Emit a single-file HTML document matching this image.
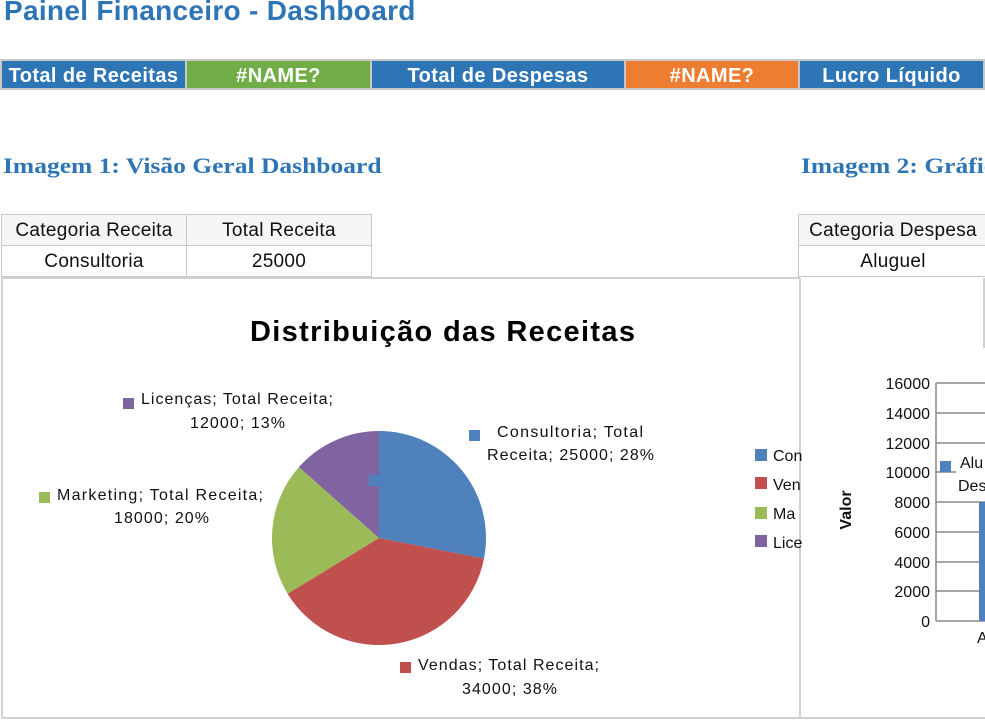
<!DOCTYPE html>
<html><head><meta charset="utf-8"><style>
*{margin:0;padding:0;box-sizing:border-box}
body{width:985px;height:721px;background:#fff;position:relative;overflow:hidden;font-family:"Liberation Sans",sans-serif}
.a{position:absolute;white-space:nowrap}
.c{position:absolute;display:flex;align-items:center;justify-content:center;white-space:nowrap}
.hb{color:#fff;font-weight:bold;font-size:20px;letter-spacing:0.4px;border:2px solid #c8c8c8;top:59px;height:31px;padding-top:3px}
.t{border:1px solid #c8c8c8;font-size:19px;letter-spacing:0.3px;color:#111;height:32px;padding-top:2px}
.h{font-family:'Liberation Serif',serif;font-weight:bold;font-size:22px;color:#2e75b6;transform:scaleX(1.16);transform-origin:left}
</style></head><body>
<div class="a" style="left:4px;top:-5px;font-size:28px;font-weight:bold;color:#2e75b6;letter-spacing:0.3px">Painel Financeiro - Dashboard</div>

<div class="c hb" style="left:0;width:187px;background:#2e75b6">Total de Receitas</div>
<div class="c hb" style="left:185px;width:187px;background:#70ad47">#NAME?</div>
<div class="c hb" style="left:370px;width:256px;background:#2e75b6">Total de Despesas</div>
<div class="c hb" style="left:624px;width:176px;background:#ed7d31">#NAME?</div>
<div class="c hb" style="left:798px;width:187px;background:#2e75b6">Lucro Líquido</div>

<div class="a h" style="left:3px;top:153px">Imagem 1: Visão Geral Dashboard</div>
<div class="a h" style="left:801px;top:153px">Imagem 2: Gráfico</div>

<div class="c t" style="left:1px;top:214px;width:186px;background:#f5f5f5">Categoria Receita</div>
<div class="c t" style="left:186px;top:214px;width:186px;background:#f5f5f5">Total Receita</div>
<div class="c t" style="left:1px;top:245px;width:186px">Consultoria</div>
<div class="c t" style="left:186px;top:245px;width:186px">25000</div>
<div class="c t" style="left:798px;top:214px;width:190px;background:#f5f5f5">Categoria Despesa</div>
<div class="c t" style="left:798px;top:245px;width:190px">Aluguel</div>

<svg class="a" style="left:0;top:0" width="985" height="721">
<g fill="none" stroke="#d0d0d0" stroke-width="2">
<line x1="2" y1="278" x2="800" y2="278"/><line x1="2" y1="278" x2="2" y2="718"/>
<line x1="2" y1="718" x2="985" y2="718"/><line x1="800" y1="278" x2="800" y2="718"/>
<line x1="984" y1="278" x2="984" y2="348"/>
</g>
<path d="M379,538 L379,431 A107,107 0 0 1 484,558.6Z" fill="#4f81bd"/>
<path d="M379,538 L484,558.6 A107,107 0 0 1 287.6,593.7Z" fill="#c0504d"/>
<path d="M379,538 L287.6,593.7 A107,107 0 0 1 298.9,467.1Z" fill="#9bbb59"/>
<path d="M379,538 L298.9,467.1 A107,107 0 0 1 379,431Z" fill="#8064a2"/>
<rect x="369" y="475" width="10" height="11" fill="#4f81bd"/>
<rect x="123" y="398" width="11" height="11" fill="#8064a2"/>
<rect x="469" y="430" width="11" height="11" fill="#4f81bd"/>
<rect x="39" y="492" width="11" height="11" fill="#9bbb59"/>
<rect x="400" y="662" width="11" height="11" fill="#c0504d"/>
<rect x="755" y="449" width="12" height="12" fill="#4f81bd"/>
<rect x="755" y="477" width="12" height="12" fill="#c0504d"/>
<rect x="755" y="507" width="12" height="12" fill="#9bbb59"/>
<rect x="755" y="535" width="12" height="12" fill="#8064a2"/>
<g font-family="Liberation Sans,sans-serif" font-size="16" fill="#111">
<text x="141" y="404" textLength="192">Licenças; Total Receita;</text><text x="190" y="428" textLength="95">12000; 13%</text>
<text x="497" y="437" textLength="146">Consultoria; Total</text><text x="487" y="460" textLength="167">Receita; 25000; 28%</text>
<text x="57" y="500" textLength="206">Marketing; Total Receita;</text><text x="114" y="523" textLength="95">18000; 20%</text>
<text x="418" y="670" textLength="181">Vendas; Total Receita;</text><text x="462" y="694" textLength="95">34000; 38%</text>
<text x="773" y="461">Con</text><text x="773" y="490">Ven</text><text x="773" y="519">Ma</text><text x="773" y="548">Lice</text>
</g>
<text x="250" y="341" textLength="385" font-family="Liberation Sans,sans-serif" font-weight="bold" font-size="29" fill="#000">Distribuição das Receitas</text>
<g stroke="#888" stroke-width="1.5">
<line x1="936" y1="383" x2="985" y2="383"/><line x1="936" y1="413" x2="985" y2="413"/><line x1="936" y1="443" x2="985" y2="443"/>
<line x1="936" y1="472" x2="985" y2="472"/><line x1="936" y1="502" x2="985" y2="502"/><line x1="936" y1="532" x2="985" y2="532"/>
<line x1="936" y1="562" x2="985" y2="562"/><line x1="936" y1="591" x2="985" y2="591"/><line x1="936" y1="621" x2="985" y2="621"/>
<line x1="936" y1="383" x2="936" y2="621"/>
</g>
<rect x="979" y="502" width="6" height="119" fill="#4f81bd"/>
<rect x="939" y="458" width="12" height="12" fill="#fff"/>
<rect x="940" y="461" width="11" height="11" fill="#4f81bd"/>
<rect x="956" y="450" width="30" height="45" fill="#fff"/>
<g font-family="Liberation Sans,sans-serif" font-size="16" fill="#111" text-anchor="end">
<text x="930" y="389">16000</text><text x="930" y="419">14000</text><text x="930" y="449">12000</text>
<text x="930" y="478">10000</text><text x="930" y="508">8000</text><text x="930" y="538">6000</text>
<text x="930" y="568">4000</text><text x="930" y="597">2000</text><text x="930" y="627">0</text>
</g>
<g font-family="Liberation Sans,sans-serif" font-size="16" fill="#111">
<text x="960" y="468">Alu</text><text x="958" y="491">Des</text><text x="977" y="643">A</text>
</g>
<text transform="translate(851,510) rotate(-90)" text-anchor="middle" font-family="Liberation Sans,sans-serif" font-weight="bold" font-size="16" fill="#111">Valor</text>
</svg>
</body></html>
